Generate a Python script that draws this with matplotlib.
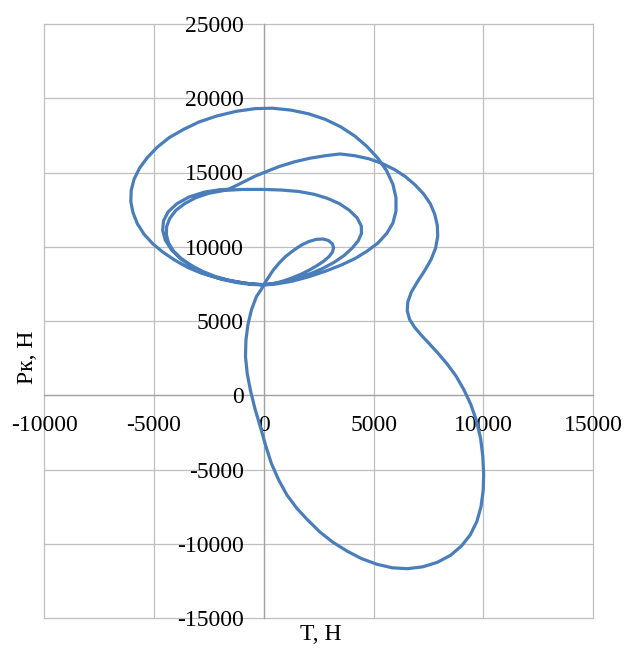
import matplotlib
matplotlib.use("Agg")
import matplotlib.pyplot as plt

# Tangential force T (N) and radial force Pk (N), in traversal order
# small loop
T_small = [0, 200, 420, 700, 1000, 1350, 1700, 2050, 2400, 2700, 2950, 3120, 3180, 3130, 2980,
           2750, 2450, 2100, 1700, 1250, 800, 400]
P_small = [7450, 7900, 8400, 8900, 9350, 9750, 10100, 10350, 10500, 10520, 10420, 10200, 9950, 9650, 9350,
           9050, 8750, 8450, 8150, 7880, 7650, 7510]
# medium loop, first pass
T_mid1 = [0, -500, -1000, -1600, -2200, -2800, -3300, -3750, -4100, -4330, -4430, -4420, -4280, -4000,
          -3600, -3100, -2500, -1800, -1000, 0, 800, 1600, 2300, 2900, 3450, 3900, 4250, 4440, 4450,
          4300, 4020, 3650, 3200, 2700, 2150, 1550, 950, 400]
P_mid1 = [7450, 7480, 7580, 7750, 8000, 8350, 8750, 9200, 9700, 10250, 10800, 11350, 11900, 12450,
          12900, 13300, 13600, 13790, 13860, 13860, 13820, 13720, 13530, 13260, 12900, 12450, 11950, 11400, 10900,
          10400, 9900, 9400, 8950, 8550, 8200, 7900, 7650, 7500]
# big loop
T_big = [0, -700, -1400, -2100, -2800, -3450, -4050, -4600, -5050, -5450, -5750, -5950, -6050, -6030,
         -5900, -5650, -5300, -4850, -4300, -3650, -2950, -2150, -1250, -400, 400, 1250, 2050, 2800,
         3500, 4150, 4700, 5200, 5600, 5880, 6020, 6020, 5880, 5600, 5200, 4700, 4150, 3500, 2800,
         2050, 1300, 600]
P_big = [7440, 7520, 7680, 7900, 8200, 8600, 9100, 9650, 10200, 10850, 11550, 12300, 13050, 13800,
         14550, 15300, 16000, 16700, 17350, 17900, 18400, 18800, 19120, 19300, 19330, 19200, 18950, 18580,
         18080, 17450, 16750, 15950, 15100, 14200, 13300, 12400, 11600, 10900, 10250, 9700, 9200, 8750, 8350,
         7980, 7680, 7500]
# medium loop, second pass (left side only)
T_mid2 = [0, -600, -1200, -1900, -2600, -3200, -3750, -4200, -4480, -4600, -4560, -4350, -3950,
          -3400, -2700, -2000, -1611]
P_mid2 = [7420, 7470, 7580, 7800, 8150, 8600, 9150, 9800, 10450, 11100, 11750, 12350, 12900,
          13350, 13680, 13840, 13872]
# compression / expansion lobe
T_lobe = [-1250, -850, -400, 100, 700, 1400, 2100, 2800, 3473, 4150, 4800, 5400, 5950, 6450, 6900,
          7280, 7580, 7780, 7900, 7920, 7820, 7620, 7330, 7000, 6720, 6560, 6530, 6640, 6880, 7200,
          7550, 7950, 8350, 8750, 9100, 9420, 9680, 9870, 9970, 10010, 9990, 9890, 9700, 9400, 9000,
          8500, 7900, 7250, 6550, 5850, 5150, 4450, 3800, 3150, 2550, 2000, 1500, 1050, 680, 350,
          90, -150, -400, -600, -750, -830, -810, -720, -560, -330, -100, 0]
P_lobe = [14120, 14420, 14750, 15050, 15400, 15720, 15960, 16130, 16249, 16130, 15920, 15600, 15200, 14720, 14150,
          13550, 12900, 12200, 11450, 10700, 9900, 9150, 8400, 7650, 6950, 6300, 5700, 5100, 4550, 4000,
          3450, 2800, 2100, 1300, 400, -600, -1700, -2900, -4100, -5300, -6400, -7500, -8500, -9400, -10150,
          -10780, -11250, -11550, -11680, -11620, -11380, -11000, -10500, -9900, -9200, -8400, -7600, -6700, -5700, -4600,
          -3400, -2150, -900, 300, 1450, 2600, 3700, 4750, 5750, 6650, 7150, 7450]

T_vals = T_small + T_mid1 + T_big + T_mid2 + T_lobe
Pk_vals = P_small + P_mid1 + P_big + P_mid2 + P_lobe

x_ticks = [-10000, -5000, 0, 5000, 10000, 15000]
y_ticks = [-15000, -10000, -5000, 0, 5000, 10000, 15000, 20000, 25000]
x_label = "T, Н"
y_label = "Рк, Н"

plt.rcParams['font.family'] = ['Liberation Serif', 'DejaVu Serif']
plt.rcParams['axes.unicode_minus'] = False

fig = plt.figure(figsize=(6.29, 6.48), dpi=100)
ax = fig.add_axes([44 / 629, 1 - 618 / 648, (593.3 - 44) / 629, (618 - 24) / 648])

ax.set_xlim(x_ticks[0], x_ticks[-1])
ax.set_ylim(y_ticks[0], y_ticks[-1])
ax.set_xticks(x_ticks)
ax.set_yticks(y_ticks)
ax.set_xticklabels([str(v) for v in x_ticks])
ax.set_yticklabels([str(v) for v in y_ticks])

# gridlines (including the frame formed by the limit lines)
for v in x_ticks:
    ax.axvline(v, color='#BFBFBF', lw=0.9, zorder=0, clip_on=False)
for v in y_ticks:
    ax.axhline(v, color='#BFBFBF', lw=0.9, zorder=0, clip_on=False)

for s in ['top', 'right']:
    ax.spines[s].set_visible(False)
for s in ['left', 'bottom']:
    ax.spines[s].set_position(('data', 0))
    ax.spines[s].set_color('#A0A0A0')
    ax.spines[s].set_linewidth(0.9)
    ax.spines[s].set_zorder(1)

ax.tick_params(axis='both', length=0, labelsize=17, colors='black')
ax.tick_params(axis='x', pad=14.5)
ax.tick_params(axis='y', pad=14.5)

ax.plot(T_vals, Pk_vals, color='#4A7EBB', lw=2.3, solid_joinstyle='round',
        solid_capstyle='round', zorder=3)

fig.text(321 / 629, 1 - 634 / 648, x_label, ha='center', va='center', fontsize=17)
fig.text(28 / 629, 1 - 357 / 648, y_label, ha='center', va='center', fontsize=17, rotation=90)

fig.savefig('out.png', dpi=100)
